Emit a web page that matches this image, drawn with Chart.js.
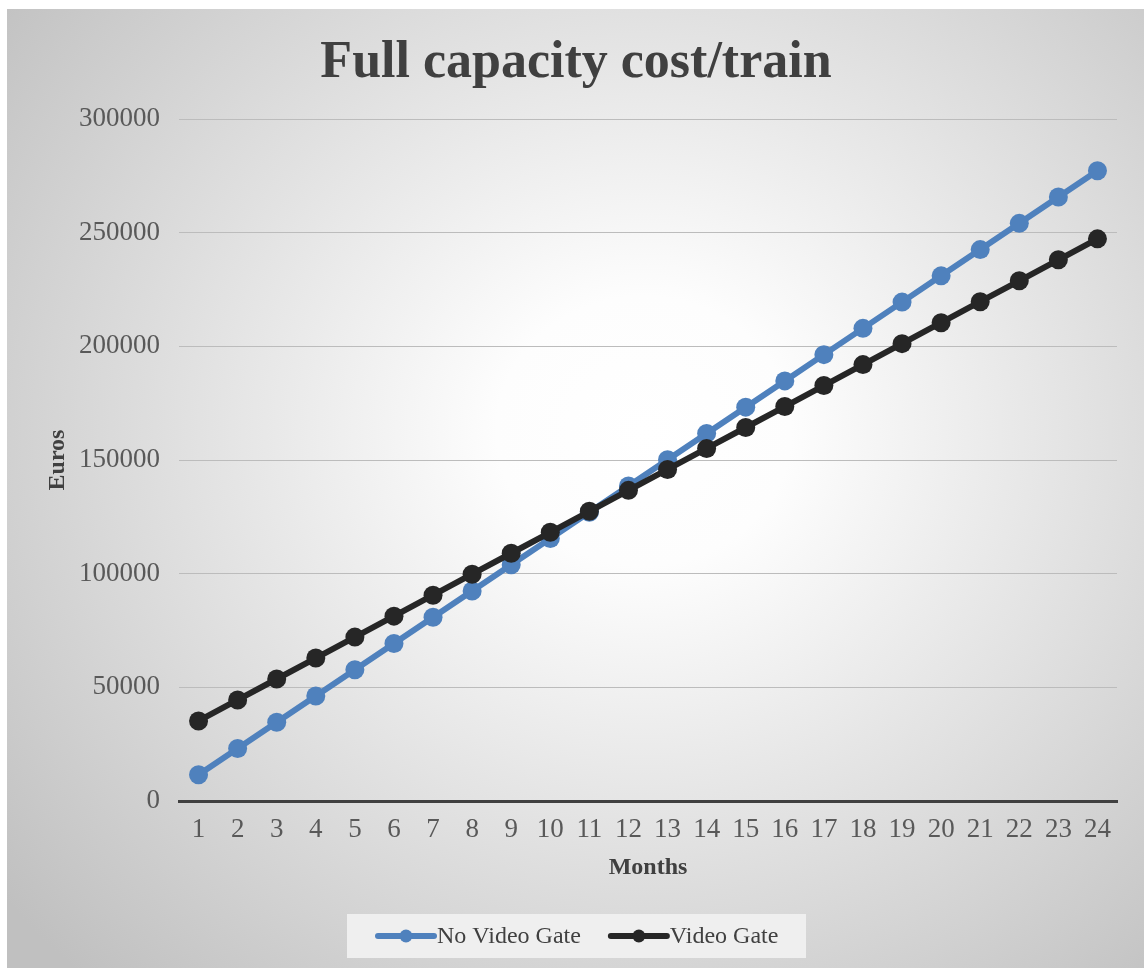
<!DOCTYPE html>
<html>
<head>
<meta charset="utf-8">
<title>Full capacity cost/train</title>
<script src="https://cdn.jsdelivr.net/npm/chart.js@4.4.1/dist/chart.umd.min.js"></script>
<style>
  html, body { margin: 0; padding: 0; background: #ffffff; }
  #wrap { position: absolute; left: 0; top: 0; width: 1144px; height: 968px; overflow: hidden; }
  #frame {
    position: absolute; left: 7px; top: 9px; width: 1137px; height: 959px;
    background: radial-gradient(ellipse 72% 78% at 56% 44%, #ffffff 0%, #fdfdfd 18%, #c0c0c0 100%);
  }
  #chart { position: absolute; left: 0; top: 0; }
</style>
</head>
<body>
<div id="wrap">
  <div id="frame"></div>
  <canvas id="chart" width="1144" height="968"></canvas>
</div>
<script>
// Months on the category axis
const months = ['1','2','3','4','5','6','7','8','9','10','11','12',
                '13','14','15','16','17','18','19','20','21','22','23','24'];

// Cumulative cost per train (euros)
const noVideoGate = [11550, 23100, 34650, 46200, 57750, 69300, 80850, 92400,
                     103950, 115500, 127050, 138600, 150150, 161700, 173250, 184800,
                     196350, 207900, 219450, 231000, 242550, 254100, 265650, 277200];
const videoGate = [35220, 44440, 53660, 62880, 72100, 81320, 90540, 99760,
                   108980, 118200, 127420, 136640, 145860, 155080, 164300, 173520,
                   182740, 191960, 201180, 210400, 219620, 228840, 238060, 247280];

// Value axis ticks
const yTicks = [0, 50000, 100000, 150000, 200000, 250000, 300000];

const chartTitle = 'Full capacity cost/train';
const seriesNames = ['No Video Gate', 'Video Gate'];
const seriesColors = ['#4f81bd', '#262626'];

const SERIF = "'Liberation Serif', 'DejaVu Serif', serif";
const TICK_COLOR = '#595959';
const TEXT_COLOR = '#404040';

// Title centred on the whole frame rather than on the plot
const frameTitle = {
  id: 'frameTitle',
  afterDraw(chart) {
    const ctx = chart.ctx;
    ctx.save();
    ctx.font = 'bold 52px ' + SERIF;
    ctx.fillStyle = TEXT_COLOR;
    ctx.textAlign = 'center';
    ctx.textBaseline = 'alphabetic';
    ctx.fillText(chartTitle, 576, 77);
    ctx.restore();
  }
};

// Legend drawn as a framed strip under the axis title
const legendStrip = {
  id: 'legendStrip',
  afterDraw(chart) {
    const ctx = chart.ctx;
    const box = { x: 347, y: 914, w: 459, h: 44 };
    const cy = box.y + box.h / 2;
    ctx.save();
    ctx.fillStyle = '#efefef';
    ctx.fillRect(box.x, box.y, box.w, box.h);
    ctx.font = '24px ' + SERIF;
    ctx.textBaseline = 'middle';
    ctx.textAlign = 'left';
    let x = 378;
    chart.data.datasets.forEach(ds => {
      ctx.strokeStyle = ds.borderColor;
      ctx.lineWidth = 6;
      ctx.lineCap = 'round';
      ctx.beginPath();
      ctx.moveTo(x, cy);
      ctx.lineTo(x + 56, cy);
      ctx.stroke();
      ctx.fillStyle = ds.borderColor;
      ctx.beginPath();
      ctx.arc(x + 28, cy, 6.5, 0, Math.PI * 2);
      ctx.fill();
      ctx.fillStyle = TEXT_COLOR;
      ctx.fillText(ds.label, x + 59, cy + 1);
      x += 59 + ctx.measureText(ds.label).width + 30;
    });
    ctx.restore();
  }
};

const ctx = document.getElementById('chart').getContext('2d');
new Chart(ctx, {
  type: 'line',
  data: {
    labels: months,
    datasets: [
      {
        label: seriesNames[0],
        data: noVideoGate,
        borderColor: seriesColors[0],
        backgroundColor: seriesColors[0],
        pointBackgroundColor: seriesColors[0],
        pointBorderColor: seriesColors[0],
        borderWidth: 6,
        pointRadius: 9.5,
        pointBorderWidth: 0,
        tension: 0,
        order: 1,
        clip: false
      },
      {
        label: seriesNames[1],
        data: videoGate,
        borderColor: seriesColors[1],
        backgroundColor: seriesColors[1],
        pointBackgroundColor: seriesColors[1],
        pointBorderColor: seriesColors[1],
        borderWidth: 6,
        pointRadius: 9.5,
        pointBorderWidth: 0,
        tension: 0,
        order: 0,
        clip: false
      }
    ]
  },
  options: {
    responsive: false,
    animation: false,
    events: [],
    layout: { padding: { left: 7, right: 27, top: 119, bottom: 0 } },
    plugins: {
      legend: { display: false },
      tooltip: { enabled: false },
      title: { display: false }
    },
    scales: {
      x: {
        type: 'category',
        offset: true,
        grid: { display: false, drawTicks: false },
        border: { display: true, color: '#404040', width: 3 },
        ticks: {
          color: TICK_COLOR,
          font: { family: SERIF, size: 27 },
          padding: 13,
          maxRotation: 0,
          autoSkip: false
        },
        title: {
          display: true,
          text: 'Months',
          color: TEXT_COLOR,
          font: { family: SERIF, size: 24, weight: 'bold', lineHeight: 1.2 },
          padding: { top: 0, bottom: 86 }
        },
        afterFit(scale) { scale.height = 167; }
      },
      y: {
        min: yTicks[0],
        max: yTicks[yTicks.length - 1],
        afterBuildTicks(scale) { scale.ticks = yTicks.map(v => ({ value: v })); },
        grid: { color: '#bcbcbc', lineWidth: 1, drawTicks: false },
        border: { display: false },
        ticks: {
          color: TICK_COLOR,
          font: { family: SERIF, size: 27 },
          padding: 19,
          callback: v => String(v)
        },
        title: {
          display: true,
          text: 'Euros',
          color: TEXT_COLOR,
          font: { family: SERIF, size: 24, weight: 'bold', lineHeight: 1.2 },
          padding: { top: 36, bottom: 0 }
        },
        afterFit(scale) { scale.width = 172; }
      }
    }
  },
  plugins: [frameTitle, legendStrip]
});
</script>
</body>
</html>
